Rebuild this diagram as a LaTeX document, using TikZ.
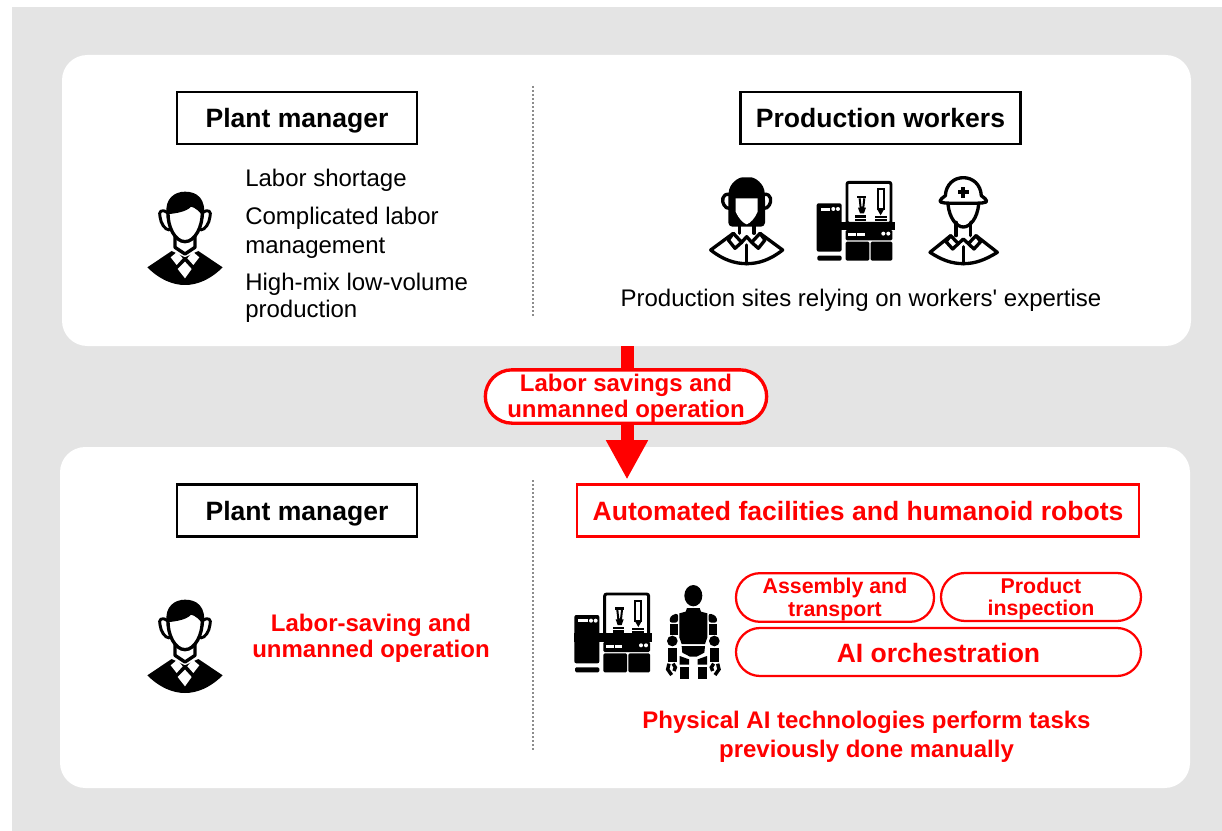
\documentclass[tikz,border=0pt]{standalone}
\usepackage{fontspec}
\setmainfont{Liberation Sans}
\newfontfamily\plainface{Liberation Sans}
\usetikzlibrary{arrows.meta}
\definecolor{bggray}{HTML}{E4E4E4}
\definecolor{sepgray}{HTML}{8C8C8C}
\definecolor{redc}{HTML}{FF0000}
\newcommand{\fsA}{\fontsize{19.9}{24}\selectfont\bfseries}
\newcommand{\fsB}{\fontsize{18}{21}\selectfont}
\newcommand{\fsC}{\fontsize{18}{19.3}\selectfont\bfseries}
\newcommand{\fsD}{\fontsize{16}{17.2}\selectfont\bfseries}
\newcommand{\strutC}{\rule{0pt}{16pt}}
\newcommand{\strutD}{\rule{0pt}{14.6pt}}
\tikzset{
  panel/.style={fill=white,draw=none,rounded corners=19pt,inner sep=0pt},
  titlebox/.style={draw=black,line width=1.6pt,fill=white,inner sep=0pt,font=\fsA,text=black,text height=19pt,text depth=4pt},
  redbox/.style={draw=redc,line width=1.6pt,fill=white,inner sep=0pt,font=\fsA,text=redc,text height=19pt,text depth=4pt},
  pill/.style={draw=redc,line width=1.7pt,fill=white,inner sep=0pt,align=center,text=redc,rounded corners=18pt},
  plain/.style={inner sep=0pt,anchor=base west,font=\fsB},
  redtext/.style={inner sep=0pt,align=center,text=redc,font=\fsC},
  sep/.style={draw=sepgray,line width=1.5pt,dash pattern=on 1.5pt off 1.5pt},
  bigarrow/.style={draw=redc,line width=9.75pt,-{Triangle[length=29.5pt,width=29.5pt]}},
  ink/.style={line width=2.5pt,line cap=round,line join=round,draw=black},
  pics/manager/.style={code={
    \begin{scope}[x=.25pt,y=-.25pt]
      \draw[ink,line width=2.2pt] (112,128) .. controls (95,115) and (85,125) .. (90,140) .. controls (92,160) and (105,180) .. (118,180);
      \draw[ink,line width=2.2pt] (218,128) .. controls (235,115) and (245,125) .. (240,140) .. controls (238,160) and (225,180) .. (212,180);
      \draw[ink] (135,200)--(135,232)--(165,252)--(195,232)--(195,200);
      \fill (52,292) -- (125,243) -- (165,262) -- (205,243) -- (278,292) .. controls (240,330) and (200,345) .. (165,345) .. controls (130,345) and (90,330) .. (52,292) -- cycle;
      \fill[white] (122,262)--(142,245)--(158,265)--(140,285)--cycle;
      \fill[white] (208,262)--(188,245)--(172,265)--(190,285)--cycle;
      \fill[white] (165,275)--(185,297)--(165,325)--(143,297)--cycle;
      \fill[white] (114,125) .. controls (112,170) and (135,215) .. (165,215) .. controls (195,215) and (218,170) .. (217,125) -- cycle;
      \draw[ink] (114,125) .. controls (112,170) and (135,215) .. (165,215) .. controls (195,215) and (218,170) .. (217,125);
      \fill (110,133) .. controls (103,85) and (135,65) .. (165,65) .. controls (200,65) and (230,85) .. (221,142) .. controls (210,125) and (195,112) .. (183,110) .. controls (170,125) and (140,130) .. (110,133) -- cycle;
    \end{scope}}},
  pics/woman/.style={code={
    \begin{scope}[x=.25pt,y=-.25pt]
      \draw[ink] (32,255)--(100,205)--(125,232)--(140,215)--(155,232)--(180,205)--(248,255) .. controls (210,285) and (175,296) .. (140,296) .. controls (105,296) and (70,285) .. (32,255) -- cycle;
      \draw[ink] (100,205)--(85,225)--(105,250)--(125,232);
      \draw[ink] (180,205)--(195,225)--(175,250)--(155,232);
      \draw[ink] (140,240)--(140,296);
      \draw[ink] (118,175)--(118,205);
      \draw[ink] (162,175)--(162,205);
      \draw[ink] (88,88) .. controls (65,85) and (65,110) .. (72,120) .. controls (76,128) and (82,130) .. (88,130);
      \draw[ink] (192,88) .. controls (215,85) and (215,110) .. (208,120) .. controls (204,128) and (198,130) .. (192,130);
      \fill[rounded corners=3pt] (85,185) -- (85,95) .. controls (88,55) and (115,37) .. (140,37) .. controls (165,37) and (192,55) .. (195,95) -- (195,185) -- cycle;
      \fill[white] (107,100) -- (173,100) -- (173,140) .. controls (165,160) and (150,175) .. (140,178) .. controls (130,175) and (115,160) .. (107,140) -- cycle;
    \end{scope}}},
  pics/hardhat/.style={code={
    \begin{scope}[x=.25pt,y=-.25pt]
      \draw[ink] (690,262)--(752,212)--(775,236)--(790,222)--(805,236)--(828,212)--(892,262) .. controls (855,285) and (825,296) .. (790,296) .. controls (755,296) and (725,285) .. (690,262) -- cycle;
      \draw[ink] (752,212)--(738,230)--(758,252)--(775,236);
      \draw[ink] (828,212)--(842,230)--(822,252)--(805,236);
      \draw[ink] (790,245)--(790,296);
      \draw[ink] (768,172)--(768,212);
      \draw[ink] (812,172)--(812,212);
      \draw[ink] (744,118) .. controls (748,160) and (770,186) .. (790,186) .. controls (810,186) and (832,160) .. (836,118);
      \draw[ink,fill=white] (736,92) .. controls (738,58) and (762,38) .. (790,38) .. controls (818,38) and (842,58) .. (844,92) .. controls (852,98) and (860,104) .. (860,108) .. controls (858,114) and (850,115) .. (790,115) .. controls (730,115) and (722,114) .. (720,108) .. controls (720,104) and (728,98) .. (736,92) -- cycle;
      \fill (784,66) rectangle (796,98);
      \fill (774,76) rectangle (806,88);
    \end{scope}}},
  pics/machine/.style={code={
    \begin{scope}[x=.25pt,y=-.25pt]
      \fill[rounded corners=1.5pt] (28,105) rectangle (103,250);
      \fill[rounded corners=1pt] (30,262) rectangle (103,277);
      \fill[white] (40,118) rectangle (68,127);
      \fill[white] (78,122) circle (6);
      \fill[white] (92,122) circle (6);
      \draw[line width=2.2pt,rounded corners=1.5pt] (119,42) rectangle (251,165);
      \fill (28,160) rectangle (262,185);
      \fill[rounded corners=1pt] (115,185) rectangle (255,216);
      \fill[rounded corners=1pt] (115,220) rectangle (186,277);
      \fill[rounded corners=1pt] (190,220) rectangle (255,277);
      \fill[white] (122,194) rectangle (146,203);
      \fill[white] (150,194) rectangle (172,203);
      \fill[white] (228,196) circle (6);
      \fill[white] (243,196) circle (6);
      \fill (149,82) rectangle (177,90);
      \draw[line width=1.5pt] (157,90) -- (160,118) -- (168,118) -- (171,90);
      \fill (152,118) -- (176,118) -- (170,135) -- (158,135) -- cycle;
      \fill (144,141) rectangle (177,148);
      \fill (144,151) rectangle (177,158);
      \draw[line width=1.5pt] (211,62) rectangle (229,122);
      \fill (209,122) -- (231,122) -- (220,141) -- cycle;
      \fill (202,144) rectangle (238,150);
      \fill (202,152) rectangle (238,158);
    \end{scope}}},
  pics/robot/.style={code={
    \begin{scope}[x=.25pt,y=-.25pt]
      \fill (385,47) ellipse (27 and 32);
      \fill (366,84) -- (404,84) -- (408,95) -- (427,100) -- (427,172) -- (420,192) -- (350,192) -- (343,172) -- (343,100) -- (362,95) -- cycle;
      \fill[rounded corners=2pt] (313,128) -- (316,108) -- (339,99) -- (339,128) -- cycle;
      \fill (314,132) rectangle (338,166);
      \fill[rounded corners=2pt] (457,128) -- (454,108) -- (431,99) -- (431,128) -- cycle;
      \fill (432,132) rectangle (456,166);
      \fill (322,183) circle (16);
      \fill (448,183) circle (16);
      \fill (309,203) rectangle (335,245);
      \fill (435,203) rectangle (461,245);
      \draw[line width=2.6pt] (312,251) -- (308,268) -- (320,285);
      \draw[line width=2.6pt] (324,251) -- (331,262) -- (327,273);
      \draw[line width=2.6pt] (458,251) -- (462,268) -- (450,285);
      \draw[line width=2.6pt] (446,251) -- (439,262) -- (443,273);
      \fill (350,198) -- (420,198) -- (418,218) -- (395,230) -- (375,230) -- (352,218) -- cycle;
      \fill (344,228) -- (372,238) -- (372,254) -- (344,254) -- cycle;
      \fill (426,228) -- (398,238) -- (398,254) -- (426,254) -- cycle;
      \fill (345,260) rectangle (372,297);
      \fill (398,260) rectangle (425,297);
    \end{scope}}}
}
\begin{document}
\begin{tikzpicture}[x=.75pt,y=-.75pt]
\useasboundingbox (0,0) rectangle (1222,831);
\fill[bggray] (12,7) rectangle (1222,831);
% panels
\node[panel,minimum width=846.75pt,minimum height=218.25pt] (topPanel) at (626.5,200.5) {};
\node[panel,minimum width=847.5pt,minimum height=255.75pt] (botPanel) at (625,617.5) {};
% arrow
\coordinate (arrowTip) at (627,479.5);
\draw[bigarrow] (topPanel.south -| arrowTip) -- (arrowTip);
\node[pill,font=\fsC,line width=2.5pt,rounded corners=20pt,minimum width=211pt,minimum height=40pt] (savePill) at (626,396.5) {\strutC Labor savings and\\unmanned operation};
% separators
\coordinate (sepA) at (533,86); \coordinate (sepB) at (533,318);
\coordinate (sepC) at (533,480); \coordinate (sepD) at (533,752);
\draw[sep] (sepA) -- (sepB);
\draw[sep] (sepC) -- (sepD);
% titles
\node[titlebox,minimum width=180.5pt,minimum height=39.5pt] (pmTop) at (297,118) {Plant manager};
\node[titlebox,minimum width=210pt,minimum height=39.5pt] (pwTop) at (880.5,118) {Production workers};
\node[titlebox,minimum width=180.5pt,minimum height=39pt] (pmBot) at (297,510.5) {Plant manager};
\node[redbox,minimum width=422pt,minimum height=39pt] (autoBox) at (858,510.5) {Automated facilities and humanoid robots};
% top left
\node[plain] (t1) at (245,187) {Labor shortage};
\node[plain] (t2) at (245,225) {Complicated labor};
\node[plain] (t3) at (245,253) {management};
\node[plain] (t4) at (245,291) {High-mix low-volume};
\node[plain] (t5) at (245,318) {production};
\node[plain,anchor=base] (t6) at (861,306) {\plainface Production sites relying on workers' expertise};
% icons
\pic at (130,170) {manager};
\pic at (130,578) {manager};
\pic at (700,165) {woman};
\pic at (700,165) {hardhat};
\pic at (807.3,168.3) {machine};
\pic at (565,580) {machine};
\pic at (565,580) {robot};
% red labels
\node[redtext] (lsu) at (371,638) {Labor-saving and\\unmanned operation};
\node[redtext,align=center] (phys) at (866.5,737) {Physical AI technologies perform tasks\\[2.2pt]previously done manually};
% pills
\node[pill,font=\fsD,minimum width=148.5pt,minimum height=36.5pt] (asm) at (835,597.5) {\strutD Assembly and\\transport};
\node[pill,font=\fsD,minimum width=150pt,minimum height=36pt] (insp) at (1041,597) {\strutD Product\\inspection};
\node[pill,font=\fsA,text height=19pt,text depth=4pt,minimum width=303.75pt,minimum height=36pt] (orch) at (938.5,652) {AI orchestration};
\end{tikzpicture}
\end{document}
